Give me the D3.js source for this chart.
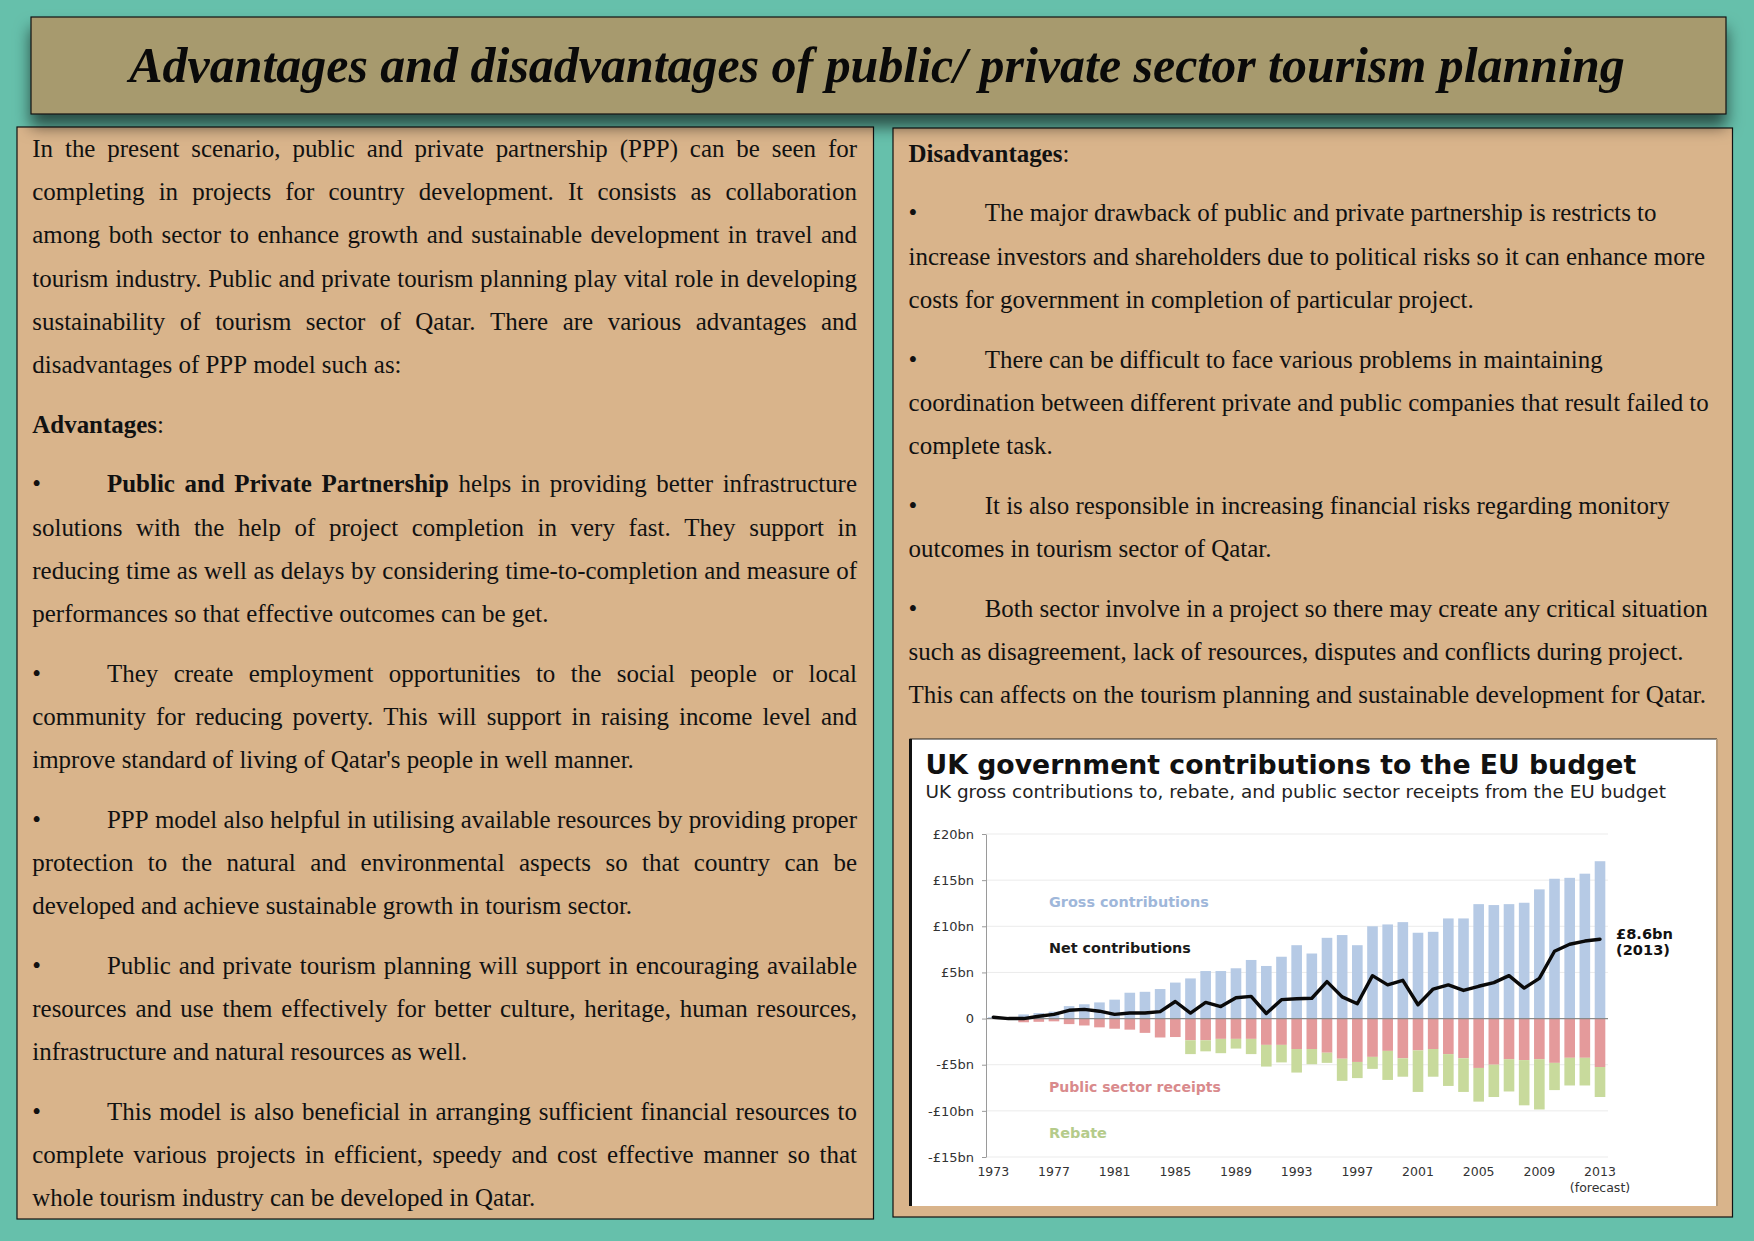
<!DOCTYPE html>
<html><head><meta charset="utf-8">
<script src="https://cdn.jsdelivr.net/npm/d3@7"></script>
<style>html,body{margin:0;padding:0;background:#66c0ab;} svg{display:block;}</style>
</head><body>
<svg id="page" width="1754" height="1241"></svg>
<script>
// ---------------- DATA ----------------
const years = [1973,1974,1975,1976,1977,1978,1979,1980,1981,1982,1983,1984,1985,1986,1987,1988,1989,1990,1991,1992,1993,1994,1995,1996,1997,1998,1999,2000,2001,2002,2003,2004,2005,2006,2007,2008,2009,2010,2011,2012,2013];
const grossContributions = [0.15,0.1,0.45,0.6,0.75,1.35,1.55,1.75,2.05,2.8,2.9,3.2,3.9,4.35,5.15,5.15,5.45,6.35,5.7,6.7,7.95,7.05,8.75,9.05,7.95,10.0,10.2,10.45,9.3,9.4,10.85,10.85,12.4,12.3,12.4,12.55,14.0,15.15,15.25,15.7,17.05];
const publicSectorReceipts = [0,0.05,0.4,0.35,0.3,0.6,0.75,0.95,1.1,1.2,1.55,2.05,2.0,2.35,2.35,2.2,2.2,2.2,2.85,2.85,3.3,3.3,3.7,4.35,4.7,4.15,3.5,4.3,3.45,3.3,3.85,4.3,5.35,5.0,4.4,4.5,4.4,4.8,4.25,4.25,5.25];
const rebate = [0,0,0,0,0,0,0,0,0,0,0,0,0,1.5,1.2,1.55,1.05,1.65,2.35,1.9,2.55,1.65,1.1,2.4,1.75,1.3,3.15,2.0,4.5,3.0,3.45,3.65,3.65,3.5,3.5,4.9,5.45,2.95,3.0,3.0,3.25];
const netContributions = [0.15,0,0,0.25,0.45,0.9,1.0,0.8,0.45,0.6,0.6,0.75,1.85,0.6,1.75,1.3,2.25,2.4,0.55,2.05,2.15,2.2,4.0,2.35,1.6,4.65,3.65,4.15,1.5,3.2,3.65,3.05,3.5,3.9,4.65,3.3,4.35,7.3,8.05,8.4,8.6];
const yTicks = [20,15,10,5,0,-5,-10,-15];
const yTickLabels = ["£20bn","£15bn","£10bn","£5bn","0","-£5bn","-£10bn","-£15bn"];
const xTickYears = [1973,1977,1981,1985,1989,1993,1997,2001,2005,2009,2013];

const pageTitle = "Advantages and disadvantages of public/ private sector tourism planning";
const chartTitle = "UK government contributions to the EU budget";
const chartSubtitle = "UK gross contributions to, rebate, and public sector receipts from the EU budget";

// paragraphs: {bullet, lines}; *text* = bold
const leftParagraphs = [
  {bullet:false, lines:[
    "In the present scenario, public and private partnership (PPP) can be seen for",
    "completing in projects for country development. It consists as collaboration",
    "among both sector to enhance growth and sustainable development in travel and",
    "tourism industry. Public and private tourism planning play vital role in developing",
    "sustainability of tourism sector of Qatar. There are various advantages and",
    "disadvantages of PPP model such as:"]},
  {bullet:false, lines:["*Advantages*:"]},
  {bullet:true, lines:[
    "*Public* *and* *Private* *Partnership* helps in providing better infrastructure",
    "solutions with the help of project completion in very fast. They support in",
    "reducing time as well as delays by considering time-to-completion and measure of",
    "performances so that effective outcomes can be get."]},
  {bullet:true, lines:[
    "They create employment opportunities to the social people or local",
    "community for reducing poverty. This will support in raising income level and",
    "improve standard of living of Qatar's people in well manner."]},
  {bullet:true, lines:[
    "PPP model also helpful in utilising available resources by providing proper",
    "protection to the natural and environmental aspects so that country can be",
    "developed and achieve sustainable growth in tourism sector."]},
  {bullet:true, lines:[
    "Public and private tourism planning will support in encouraging available",
    "resources and use them effectively for better culture, heritage, human resources,",
    "infrastructure and natural resources as well."]},
  {bullet:true, lines:[
    "This model is also beneficial in arranging sufficient financial resources to",
    "complete various projects in efficient, speedy and cost effective manner so that",
    "whole tourism industry can be developed in Qatar."]}
];
const rightParagraphs = [
  {bullet:false, lines:["*Disadvantages*:"]},
  {bullet:true, lines:[
    "The major drawback of public and private partnership is restricts to",
    "increase investors and shareholders due to political risks so it can enhance more",
    "costs for government in completion of particular project."]},
  {bullet:true, lines:[
    "There can be difficult to face various problems in maintaining",
    "coordination between different private and public companies that result failed to",
    "complete task."]},
  {bullet:true, lines:[
    "It is also responsible in increasing financial risks regarding monitory",
    "outcomes in tourism sector of Qatar."]},
  {bullet:true, lines:[
    "Both sector involve in a project so there may create any critical situation",
    "such as disagreement, lack of resources, disputes and conflicts during project.",
    "This can affects on the tourism planning and sustainable development for Qatar."]}
];

// ---------------- DRAW ----------------
const svg = d3.select("#page");
const SERIF = "'Liberation Serif','Times New Roman',serif";
const SANS = "'DejaVu Sans',Verdana,sans-serif";

const defs = svg.append("defs");
const f = defs.append("filter").attr("id","shadow").attr("x","-5%").attr("y","-30%").attr("width","110%").attr("height","190%");
f.append("feDropShadow").attr("dx",0).attr("dy",12).attr("stdDeviation",8).attr("flood-color","#000").attr("flood-opacity",0.6);

svg.append("rect").attr("width",1754).attr("height",1241).attr("fill","#66c0ab");

// text boxes
svg.append("rect").attr("x",17).attr("y",127).attr("width",856.5).attr("height",1092)
  .attr("fill","#d9b48b").attr("stroke","#111").attr("stroke-width",1.2);
svg.append("rect").attr("x",893).attr("y",128).attr("width",839.5).attr("height",1089)
  .attr("fill","#d9b48b").attr("stroke","#111").attr("stroke-width",1.2);

// title box with shadow
svg.append("rect").attr("x",31).attr("y",17).attr("width",1695).attr("height",97)
  .attr("fill","#a79a6e").attr("stroke","#111").attr("stroke-width",1.2).attr("filter","url(#shadow)");
const tt = svg.append("text").attr("x",877).attr("y",82).attr("text-anchor","middle")
  .attr("font-family",SERIF).attr("font-weight","bold").attr("font-style","italic")
  .attr("font-size",48).attr("fill","#0a0a0a").text(pageTitle);
fitWidth(tt, 1496);

function fitWidth(sel, target){
  const w = sel.node().getComputedTextLength();
  const fs = parseFloat(sel.attr("font-size"));
  sel.attr("font-size", fs*target/w);
}

// ---------- paragraph text ----------
const measurer = svg.append("text").attr("font-family",SERIF).attr("font-size",22).attr("visibility","hidden");
measurer.text("increase investors and shareholders due to political risks so it can enhance more");
const FS = 22*797/measurer.node().getComputedTextLength();
measurer.attr("font-size",FS);

function runs(word){
  return word.split(/(\*[^*]+\*)/).filter(s=>s.length).map(s=>
    s.startsWith("*") ? {t:s.slice(1,-1), b:true} : {t:s, b:false});
}
function measure(word){
  measurer.text(null);
  runs(word).forEach(r=>measurer.append("tspan").attr("font-weight",r.b?"bold":"normal").text(r.t));
  return measurer.node().getComputedTextLength();
}
const spaceW = measure("a a") - measure("aa");

const textG = svg.append("g").attr("font-family",SERIF).attr("font-size",FS).attr("fill","#111");
function drawLine(x0, x1, y, str, justify){
  const words = str.split(" ");
  const widths = words.map(measure);
  const total = d3.sum(widths);
  const gap = (justify && words.length>1) ? (x1-x0-total)/(words.length-1) : spaceW;
  const t = textG.append("text").attr("y", y);
  let x = x0;
  words.forEach((w,i)=>{
    const rs = runs(w);
    rs.forEach((r,j)=>{
      const last = (j===rs.length-1) && (i<words.length-1);
      const ts = t.append("tspan").attr("font-weight", r.b?"bold":"normal").text(r.t + (last?" ":""));
      if(j===0) ts.attr("x", x);
    });
    x += widths[i] + gap;
  });
}
function drawColumn(paras, x0, xIndent, x1, y0, lineH, paraH, justify){
  let y = y0;
  paras.forEach((p,pi)=>{
    if(pi>0) y += paraH - lineH;
    p.lines.forEach((ln,li)=>{
      const isLast = li===p.lines.length-1;
      if(p.bullet && li===0){
        textG.append("text").attr("x",x0).attr("y",y).text("•");
        drawLine(xIndent, x1, y, ln, justify && !isLast);
      } else {
        drawLine(x0, x1, y, ln, justify && !isLast);
      }
      y += lineH;
    });
  });
}
drawColumn(leftParagraphs, 32.3, 107, 857, 157, 43.2, 59.7, true);
drawColumn(rightParagraphs, 908.6, 984.7, 1716, 161.7, 43.2, 59.7, false);

// ---------- chart ----------
const cb = {x:909.5, y:739, w:807.5, h:467};
svg.append("rect").attr("x",cb.x).attr("y",cb.y).attr("width",cb.w).attr("height",cb.h).attr("fill","#fff");
svg.append("line").attr("x1",cb.x).attr("x2",cb.x+cb.w).attr("y1",cb.y).attr("y2",cb.y).attr("stroke","#222").attr("stroke-width",1.2);
svg.append("line").attr("x1",cb.x+cb.w).attr("x2",cb.x+cb.w).attr("y1",cb.y).attr("y2",cb.y+cb.h).attr("stroke","#b59a7a").attr("stroke-width",2);
svg.append("line").attr("x1",cb.x+1).attr("x2",cb.x+1).attr("y1",cb.y).attr("y2",cb.y+cb.h).attr("stroke","#111").attr("stroke-width",3);

const ct = svg.append("text").attr("x",925.5).attr("y",774).attr("font-family",SANS).attr("font-weight","bold")
  .attr("font-size",25).attr("fill","#111").text(chartTitle);
fitWidth(ct, 711);
const cs = svg.append("text").attr("x",925.5).attr("y",798).attr("font-family",SANS)
  .attr("font-size",16).attr("fill","#222").text(chartSubtitle);
fitWidth(cs, 741);

const x = d3.scaleBand().domain(years).range([985.7, 1607.6]).paddingInner(0.3).paddingOuter(0.15);
const y = d3.scaleLinear().domain([-15, 20]).range([1157, 834]);
const plotL = 986, plotR = 1608;

const chart = svg.append("g");
// gridlines
chart.selectAll("line.grid").data(yTicks.filter(d=>d!==0)).join("line")
  .attr("x1",plotL).attr("x2",plotR).attr("y1",d=>y(d)).attr("y2",d=>y(d))
  .attr("stroke","#ebebeb").attr("stroke-width",1);

const rows = years.map((yr,i)=>({yr, g:grossContributions[i], r:publicSectorReceipts[i], b:rebate[i], n:netContributions[i]}));
chart.selectAll("rect.gross").data(rows).join("rect")
  .attr("x",d=>x(d.yr)).attr("width",x.bandwidth())
  .attr("y",d=>y(d.g)).attr("height",d=>y(0)-y(d.g)).attr("fill","#b6cae5");
chart.selectAll("rect.rec").data(rows).join("rect")
  .attr("x",d=>x(d.yr)).attr("width",x.bandwidth())
  .attr("y",y(0)).attr("height",d=>y(-d.r)-y(0)).attr("fill","#e49a9b");
chart.selectAll("rect.reb").data(rows).join("rect")
  .attr("x",d=>x(d.yr)).attr("width",x.bandwidth())
  .attr("y",d=>y(-d.r)).attr("height",d=>y(-d.r-d.b)-y(-d.r)).attr("fill","#c8da9c");

// zero line
chart.append("line").attr("x1",plotL).attr("x2",plotR).attr("y1",y(0)).attr("y2",y(0))
  .attr("stroke","#8a8a8a").attr("stroke-width",1.2);

// net line
chart.append("path").datum(rows)
  .attr("d", d3.line().x(d=>x(d.yr)+x.bandwidth()/2).y(d=>y(d.n)))
  .attr("fill","none").attr("stroke","#0a0a0a").attr("stroke-width",3.4)
  .attr("stroke-linejoin","round").attr("stroke-linecap","round");

// y axis
const yAxis = chart.append("g").attr("transform",`translate(${plotL},0)`)
  .call(d3.axisLeft(y).tickValues(yTicks).tickSize(4).tickSizeOuter(0).tickPadding(8)
    .tickFormat((d,i)=>yTickLabels[yTicks.indexOf(d)]));
yAxis.select(".domain").attr("stroke","#9a9a9a");
yAxis.selectAll(".tick line").attr("stroke","#9a9a9a");
yAxis.selectAll("text").attr("font-family",SANS).attr("font-size",13).attr("fill","#333");

// x axis labels
const xAxis = chart.append("g").attr("transform",`translate(0,${y(-15)})`)
  .call(d3.axisBottom(x).tickValues(xTickYears).tickSize(0).tickPadding(10));
xAxis.select(".domain").remove();
xAxis.selectAll("text").attr("font-family",SANS).attr("font-size",12.5).attr("fill","#333");
chart.append("text").attr("x",x(2013)+x.bandwidth()/2).attr("y",1191.5).attr("text-anchor","middle")
  .attr("font-family",SANS).attr("font-size",12.5).attr("fill","#333").text("(forecast)");

// series labels
function label(txt, lx, ly, col, w){
  const t = chart.append("text").attr("x",lx).attr("y",ly).attr("font-family",SANS)
    .attr("font-weight","bold").attr("font-size",14).attr("fill",col).text(txt);
  fitWidth(t, w);
}
label("Gross contributions", 1049, 906.5, "#9fb7da", 160);
label("Net contributions", 1049, 953, "#1a1a1a", 142);
label("Public sector receipts", 1049, 1092, "#d98a8c", 172);
label("Rebate", 1049, 1137.5, "#b5cb8a", 58);
label("£8.6bn", 1616, 938.5, "#111", 57);
label("(2013)", 1616, 955, "#111", 54);
measurer.remove();
</script>
</body></html>
